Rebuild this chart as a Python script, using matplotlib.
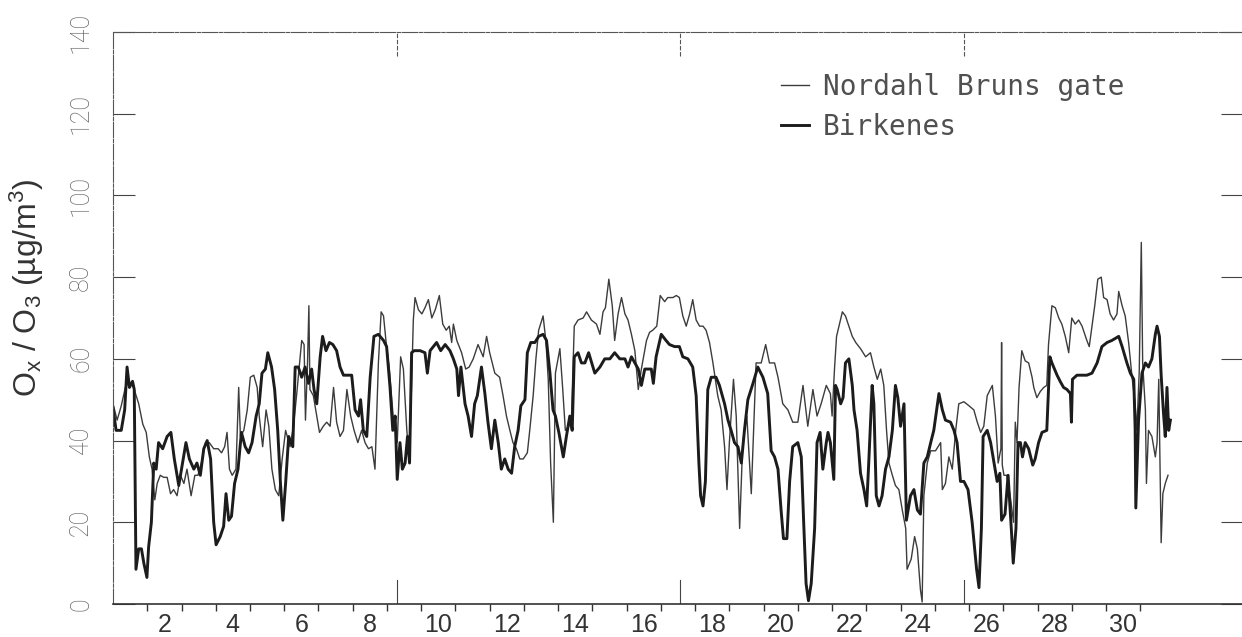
import matplotlib.pyplot as plt

plt.rcParams['mathtext.default'] = 'regular'

# hourly O_x / O_3 traces, read as (day, value) turning points
birk_day = [0.0, 0.09, 0.24, 0.34, 0.41, 0.48, 0.57, 0.62, 0.65, 0.67, 0.75, 0.83, 0.9, 0.99, 1.04, 1.12,
            1.19, 1.26, 1.33, 1.45, 1.58, 1.69, 1.79, 1.92, 2.03, 2.13, 2.23, 2.36, 2.45, 2.55, 2.65, 2.75,
            2.85, 2.94, 3.01, 3.13, 3.23, 3.3, 3.38, 3.46, 3.55, 3.65, 3.75, 3.86, 3.96, 4.06, 4.18, 4.27,
            4.35, 4.45, 4.52, 4.63, 4.72, 4.81, 4.89, 4.96, 5.04, 5.13, 5.25, 5.32, 5.41, 5.51, 5.61, 5.71,
            5.8, 5.87, 5.95, 6.05, 6.12, 6.22, 6.32, 6.42, 6.53, 6.63, 6.73, 6.97, 7.07, 7.17, 7.23, 7.31,
            7.41, 7.51, 7.62, 7.75, 7.9, 7.99, 8.09, 8.17, 8.24, 8.3, 8.38, 8.45, 8.53, 8.6, 8.66, 8.72,
            8.79, 8.97, 9.11, 9.18, 9.26, 9.45, 9.57, 9.7, 9.84, 9.94, 10.04, 10.09, 10.16, 10.28, 10.37, 10.47,
            10.56, 10.64, 10.76, 10.86, 10.95, 11.05, 11.15, 11.25, 11.34, 11.44, 11.54, 11.64, 11.73, 11.83, 11.91, 12.03,
            12.1, 12.2, 12.32, 12.43, 12.56, 12.66, 12.76, 12.85, 12.92, 13.02, 13.15, 13.24, 13.34, 13.41, 13.47, 13.58,
            13.68, 13.78, 13.89, 14.07, 14.22, 14.36, 14.51, 14.65, 14.8, 14.95, 15.04, 15.14, 15.24, 15.34, 15.43, 15.53,
            15.72, 15.78, 15.86, 16.01, 16.15, 16.25, 16.4, 16.54, 16.64, 16.79, 16.93, 17.03, 17.11, 17.16, 17.23, 17.3,
            17.37, 17.47, 17.61, 17.71, 17.86, 17.96, 18.05, 18.15, 18.25, 18.35, 18.44, 18.54, 18.69, 18.83, 18.98, 19.12,
            19.22, 19.32, 19.42, 19.51, 19.58, 19.68, 19.76, 19.85, 20.0, 20.1, 20.17, 20.24, 20.31, 20.39, 20.49, 20.56,
            20.65, 20.73, 20.83, 20.88, 20.95, 21.05, 21.1, 21.15, 21.25, 21.32, 21.39, 21.49, 21.59, 21.64, 21.73, 21.83,
            21.93, 22.01, 22.07, 22.17, 22.22, 22.29, 22.37, 22.46, 22.56, 22.66, 22.76, 22.85, 22.92, 23.0, 23.1, 23.17,
            23.29, 23.39, 23.49, 23.58, 23.68, 23.78, 23.88, 23.97, 24.12, 24.22, 24.31, 24.46, 24.56, 24.65, 24.75, 24.85,
            24.97, 25.09, 25.22, 25.29, 25.36, 25.41, 25.53, 25.63, 25.73, 25.82, 25.9, 25.95, 26.05, 26.14, 26.24, 26.29,
            26.37, 26.43, 26.5, 26.56, 26.64, 26.74, 26.86, 26.93, 27.03, 27.13, 27.27, 27.36, 27.42, 27.57, 27.66, 27.76,
            27.86, 27.96, 27.99, 28.02, 28.15, 28.3, 28.44, 28.59, 28.74, 28.88, 29.03, 29.17, 29.37, 29.47, 29.61, 29.71,
            29.81, 29.85, 29.87, 29.95, 30.05, 30.15, 30.24, 30.34, 30.44, 30.49, 30.56, 30.61, 30.68, 30.73, 30.78, 30.83,
            30.88]
birk_val = [48, 42.5, 42.5, 47.5, 58, 53, 54.5, 52.5, 26, 8.5, 13.5, 13.5, 10, 6.5, 14, 20,
            34.5, 33, 39.5, 38, 41, 42, 35.5, 29, 34.5, 39.5, 35.5, 33, 34.5, 31.5, 38, 40,
            35.5, 20, 14.5, 16.5, 19, 27, 20.5, 21.5, 29.5, 33, 42, 38.5, 37, 39.5, 46, 49,
            56.5, 57.5, 61.5, 58, 52.5, 42.5, 29.5, 20.5, 29.5, 41, 38.5, 58, 58, 55.5, 58, 54,
            57.5, 52.5, 49, 60.5, 65.5, 62, 64, 63.5, 62, 58, 56, 56, 47.5, 46, 50, 42.5,
            41, 55.5, 65.5, 66, 64.5, 63, 53, 42.5, 46, 30.5, 39.5, 33, 34.5, 41, 34.5, 61.5,
            62, 62, 61.5, 56.5, 62, 64, 62, 63.5, 62, 60, 57.5, 51, 58, 49, 46, 41,
            49, 51, 58, 51.5, 44.5, 38, 45, 39.5, 33, 35.5, 33, 32, 38.5, 42.5, 48.5, 50,
            61.5, 64, 64, 65.5, 66, 64.5, 56.5, 47.5, 46, 42, 36, 41, 46, 42.5, 60.5, 61.5,
            59, 59, 61.5, 56.5, 58, 60, 60, 61.5, 60, 60, 58, 60.5, 59, 57.5, 53.5, 57.5,
            57.5, 54, 60.5, 66, 64.5, 63.5, 63, 63, 60.5, 60, 58, 51, 34.5, 26.5, 24, 30,
            52.5, 55.5, 55.5, 53.5, 49, 45, 42.5, 39.5, 38.5, 34.5, 42.5, 50, 54, 58, 55.5, 51.5,
            37.5, 36, 33, 23, 16, 16, 30, 38.5, 39.5, 36, 20, 5, 0.8, 5, 18.5, 39.5,
            42, 33, 39.5, 42, 39.5, 30.5, 53.5, 52.5, 49, 50.5, 59, 60, 53.5, 47.5, 42.5, 32,
            28, 24, 34.5, 53.5, 49, 26.5, 24, 26.5, 33, 36, 42.5, 53.5, 50.5, 43.5, 49, 20.5,
            26.5, 28, 23, 22, 34.5, 36, 39.5, 42.5, 51.5, 47.5, 45, 44.5, 42.5, 39.5, 30, 30,
            28, 20, 8.5, 4, 18.5, 41, 42.5, 39.5, 34.5, 30, 32, 20.5, 22, 31.5, 17.5, 10,
            18.5, 39.5, 39.5, 36, 39.5, 38, 34, 35.5, 39.5, 42, 42.5, 60.5, 59, 56, 54.5, 53,
            52.5, 51.5, 44.5, 55, 56, 56, 56, 56.5, 59, 63, 64, 64.5, 65.5, 63, 59, 56.5,
            55, 43, 23.5, 45, 56.5, 59, 58, 60, 66, 68, 65.5, 56, 46.5, 41, 53, 42.5,
            45]

nord_day = [0.0, 0.12, 0.24, 0.36, 0.46, 0.6, 0.75, 0.87, 0.97, 1.06, 1.14, 1.22, 1.29, 1.38, 1.48, 1.58,
            1.68, 1.77, 1.87, 1.97, 2.07, 2.16, 2.28, 2.39, 2.48, 2.58, 2.7, 2.81, 2.94, 3.07, 3.17, 3.26,
            3.33, 3.4, 3.48, 3.59, 3.67, 3.72, 3.82, 3.92, 4.01, 4.11, 4.21, 4.27, 4.37, 4.47, 4.55, 4.64,
            4.74, 4.84, 4.94, 5.04, 5.17, 5.27, 5.36, 5.51, 5.58, 5.62, 5.68, 5.72, 5.75, 5.85, 5.95, 6.03,
            6.14, 6.24, 6.34, 6.44, 6.53, 6.63, 6.73, 6.83, 6.94, 7.04, 7.15, 7.26, 7.36, 7.46, 7.56, 7.65,
            7.75, 7.83, 7.9, 7.97, 8.07, 8.19, 8.3, 8.4, 8.48, 8.58, 8.66, 8.73, 8.77, 8.82, 8.92, 9.02,
            9.11, 9.21, 9.31, 9.41, 9.53, 9.63, 9.73, 9.82, 9.89, 9.94, 10.04, 10.18, 10.3, 10.4, 10.52, 10.66,
            10.81, 10.91, 11.0, 11.15, 11.29, 11.39, 11.49, 11.59, 11.68, 11.78, 11.88, 11.98, 12.1, 12.17, 12.27, 12.35,
            12.43, 12.56, 12.64, 12.71, 12.78, 12.86, 12.92, 13.05, 13.13, 13.21, 13.31, 13.39, 13.47, 13.58, 13.73, 13.83,
            13.97, 14.12, 14.22, 14.31, 14.38, 14.48, 14.58, 14.65, 14.75, 14.85, 14.95, 15.04, 15.14, 15.24, 15.34, 15.43,
            15.58, 15.67, 15.76, 15.88, 15.98, 16.11, 16.2, 16.35, 16.45, 16.54, 16.64, 16.74, 16.84, 16.93, 17.03, 17.13,
            17.23, 17.32, 17.42, 17.52, 17.59, 17.66, 17.76, 17.86, 17.93, 18.0, 18.12, 18.2, 18.3, 18.39, 18.51, 18.64,
            18.78, 18.93, 19.06, 19.17, 19.32, 19.42, 19.56, 19.71, 19.85, 20.0, 20.15, 20.29, 20.44, 20.56, 20.68, 20.83,
            20.95, 21.0, 21.07, 21.13, 21.2, 21.3, 21.39, 21.49, 21.59, 21.69, 21.83, 21.98, 22.12, 22.22, 22.32, 22.42,
            22.51, 22.59, 22.66, 22.76, 22.85, 22.95, 23.05, 23.15, 23.19, 23.31, 23.41, 23.49, 23.58, 23.63, 23.68, 23.78,
            23.88, 24.02, 24.17, 24.22, 24.31, 24.41, 24.51, 24.61, 24.7, 24.85, 25.0, 25.14, 25.24, 25.34, 25.43, 25.53,
            25.68, 25.77, 25.85, 25.93, 25.95, 25.97, 26.02, 26.1, 26.2, 26.3, 26.35, 26.4, 26.46, 26.54, 26.64, 26.74,
            26.84, 26.89, 26.98, 27.08, 27.18, 27.27, 27.32, 27.42, 27.52, 27.62, 27.71, 27.81, 27.91, 28.0, 28.1, 28.2,
            28.3, 28.44, 28.51, 28.59, 28.67, 28.76, 28.86, 28.93, 29.03, 29.12, 29.22, 29.32, 29.37, 29.47, 29.56, 29.66,
            29.76, 29.85, 29.9, 29.97, 30.03, 30.07, 30.15, 30.18, 30.24, 30.34, 30.44, 30.49, 30.54, 30.61, 30.66, 30.73,
            30.81]
nord_val = [49, 45, 48.5, 53, 54.5, 53, 49, 44, 42, 36, 33, 25.5, 29.5, 31.5, 31, 31,
            27, 28, 26.5, 31.5, 29.5, 33, 26.5, 31.5, 31.5, 34.5, 39.5, 39.5, 38, 38, 37, 38.5,
            42, 33, 31.5, 33, 53, 41, 42.5, 47.5, 55.5, 56, 53, 46, 38.5, 47.5, 43.5, 33,
            28, 26.5, 35.5, 42.5, 38.5, 43.5, 51, 64.5, 63.5, 45, 59, 73, 52.5, 51, 46, 42,
            43.5, 44.5, 43.5, 53, 44.5, 41, 42.5, 52.5, 46, 42.5, 39.5, 42.5, 39.5, 38, 38.5, 33,
            59, 71.5, 70.5, 64.5, 57.5, 45, 39.5, 60.5, 57.5, 42.5, 35.5, 57.5, 69.5, 75, 72, 71,
            72.5, 74.5, 70, 72, 75.5, 68.5, 67, 68, 64, 68.5, 64.5, 61.5, 57.5, 58, 60, 63.5,
            60.5, 65.5, 61.5, 56.5, 55.5, 51, 46, 42.5, 39.5, 38, 35.5, 35.5, 37, 42.5, 51, 60,
            67, 70.5, 64.5, 55, 34.5, 20, 56.5, 62.5, 53, 42.5, 43.5, 46, 68, 69.5, 70, 71.5,
            69.5, 68.5, 66, 71.5, 72.5, 79.5, 73, 64.5, 71, 75, 71, 69.5, 66, 62, 52.5, 57.5,
            64.5, 66.5, 67, 68, 75.5, 74, 75, 75, 75.5, 75, 70.5, 68, 71, 74.5, 69.5, 68,
            68, 67, 64, 59, 55, 51, 47.5, 38.5, 28, 39.5, 55, 46, 18.5, 39.5, 46, 27,
            59, 59, 63.5, 59, 59, 55.5, 49, 47.5, 44.5, 44.5, 53.5, 43.5, 52.5, 46, 49, 53.5,
            51.5, 46, 57.5, 65.5, 68, 71.5, 70.5, 68, 65.5, 64, 62.5, 60.5, 61.5, 58, 55, 57.5,
            53.5, 42.5, 34.5, 31.5, 29, 28, 23, 18.5, 8.5, 11, 16.5, 13.5, 3.5, 0.5, 26.5, 34.5,
            37.5, 37.5, 39.5, 28, 29.5, 36, 33, 42.5, 49, 49.5, 48.5, 47.5, 44.5, 42, 43.5, 51,
            53.5, 46, 34.5, 38, 64, 34, 31.5, 31.5, 26.5, 20, 44.5, 39.5, 53, 62, 59.5, 59,
            55.5, 53, 50.5, 52, 53, 53.5, 63.5, 73, 72.5, 70, 68.5, 65.5, 61.5, 70, 68.5, 69.5,
            68, 64.5, 63, 68, 73, 79.5, 80, 75, 74.5, 71, 69.5, 71, 76.5, 73, 70.5, 64,
            55.5, 49, 42.5, 57, 88.5, 59, 47.5, 29.5, 42.5, 41, 36, 39.5, 55, 15, 27, 29.5,
            31.5]

day_labels = ['2', '4', '6', '8', '10', '12', '14', '16', '18', '20', '22', '24', '26', '28', '30']
y_ticks = [0, 20, 40, 60, 80, 100, 120, 140]
long_ticks = [8.3, 16.57, 24.85]

fig = plt.figure(figsize=(12.42, 6.37), dpi=100)
ax = fig.add_axes([0.091, 0.0518, 0.9098, 0.898])

ax.plot(nord_day, nord_val, color='#3c3c3c', lw=1.0, label='Nordahl Bruns gate')
ax.plot(birk_day, birk_val, color='#1c1c1c', lw=2.1, label='Birkenes')
ax.set_xlim(0, 33)
ax.set_ylim(0, 140)

# day numbers sit in the middle of each day, ticks on day boundaries
ax.set_xticks([int(d) - 0.5 for d in day_labels])
ax.set_xticklabels(day_labels, fontfamily='Liberation Sans', fontsize=18, color='#333333')
ax.set_xticks(range(1, 31), minor=True)
ax.tick_params(axis='x', which='major', length=0, pad=6.5)
ax.tick_params(axis='x', which='minor', direction='out', length=5, width=1.0, color='#333333')
for x in long_ticks:
    ax.axvline(x, 0, 0.042, color='#444444', lw=0.8)
    ax.axvline(x, 0.958, 1, color='#555555', lw=0.8, ls=(0, (4, 1.5)))

ax.set_yticks(y_ticks)
ax.set_yticklabels([str(v) for v in y_ticks], fontfamily='Roboto', fontweight='light',
                   fontsize=18, color='#666666', rotation=90, ha='center', va='center')
ax.tick_params(axis='y', direction='in', length=16, width=0.8, color='#444444',
               left=True, right=True, pad=23)

ax.set_ylabel('O$_x$ / O$_3$ (µg/m$^3$)', fontfamily='Liberation Sans', fontsize=23,
              color='#333333', va='center')
ax.yaxis.set_label_coords(-0.076, 0.552)

for side in ['left', 'top']:
    ax.spines[side].set_color('#555555')
    ax.spines[side].set_linewidth(0.8)
    ax.spines[side].set_linestyle((0, (14, 1.5, 3, 1.5)))
ax.spines['bottom'].set_color('#333333')
ax.spines['bottom'].set_linewidth(1.2)
ax.spines['right'].set_visible(False)

ax.legend(loc='upper left', bbox_to_anchor=(0.591, 0.929), frameon=False,
          borderpad=0, borderaxespad=0, handlelength=1.0, handletextpad=0.5,
          labelspacing=0.44, prop={'family': 'DejaVu Sans Mono', 'size': 20},
          labelcolor='#505050')

fig.savefig('out.png', dpi=100)
